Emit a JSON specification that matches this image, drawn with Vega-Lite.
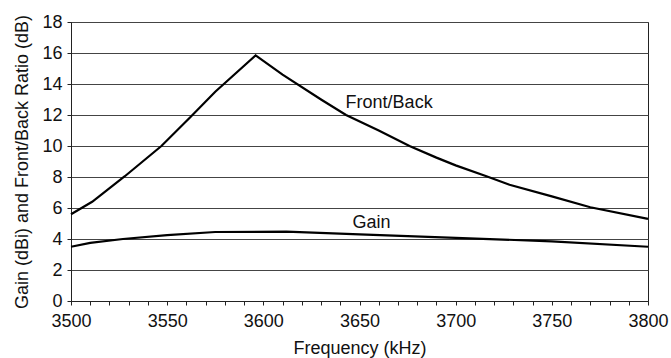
{
  "$schema": "https://vega.github.io/schema/vega-lite/v6.json",
  "width": 577,
  "height": 279,
  "autosize": {"type": "none"},
  "padding": {"left": 71, "top": 22, "right": 23, "bottom": 57},
  "background": "white",
  "config": {
    "font": "Liberation Sans",
    "view": {"stroke": "#222", "strokeWidth": 1},
    "axis": {
      "labelFont": "Liberation Sans",
      "titleFont": "Liberation Sans",
      "labelFontSize": 18,
      "titleFontSize": 18,
      "titleFontWeight": "normal",
      "labelColor": "#111",
      "titleColor": "#111",
      "domainColor": "#222",
      "tickColor": "#222",
      "gridColor": "#444",
      "gridOpacity": 1,
      "tickSize": 4
    }
  },
  "datasets": {
    "curves": [
      {"freq": 3500, "value": 5.6, "series": "Front/Back"},
      {"freq": 3511, "value": 6.4, "series": "Front/Back"},
      {"freq": 3528, "value": 8.05, "series": "Front/Back"},
      {"freq": 3547, "value": 10.0, "series": "Front/Back"},
      {"freq": 3562, "value": 11.85, "series": "Front/Back"},
      {"freq": 3575, "value": 13.5, "series": "Front/Back"},
      {"freq": 3596, "value": 15.85, "series": "Front/Back"},
      {"freq": 3610, "value": 14.6, "series": "Front/Back"},
      {"freq": 3630, "value": 13.0, "series": "Front/Back"},
      {"freq": 3643, "value": 12.0, "series": "Front/Back"},
      {"freq": 3660, "value": 11.0, "series": "Front/Back"},
      {"freq": 3676, "value": 10.0, "series": "Front/Back"},
      {"freq": 3690, "value": 9.25, "series": "Front/Back"},
      {"freq": 3700, "value": 8.75, "series": "Front/Back"},
      {"freq": 3716, "value": 8.05, "series": "Front/Back"},
      {"freq": 3728, "value": 7.5, "series": "Front/Back"},
      {"freq": 3750, "value": 6.75, "series": "Front/Back"},
      {"freq": 3770, "value": 6.05, "series": "Front/Back"},
      {"freq": 3800, "value": 5.3, "series": "Front/Back"},
      {"freq": 3500, "value": 3.5, "series": "Gain"},
      {"freq": 3510, "value": 3.75, "series": "Gain"},
      {"freq": 3527, "value": 4.0, "series": "Gain"},
      {"freq": 3550, "value": 4.25, "series": "Gain"},
      {"freq": 3575, "value": 4.45, "series": "Gain"},
      {"freq": 3612, "value": 4.47, "series": "Gain"},
      {"freq": 3650, "value": 4.3, "series": "Gain"},
      {"freq": 3700, "value": 4.07, "series": "Gain"},
      {"freq": 3750, "value": 3.85, "series": "Gain"},
      {"freq": 3800, "value": 3.5, "series": "Gain"}
    ],
    "labels": [
      {"freq": 3665.4, "value": 12.77, "text": "Front/Back"},
      {"freq": 3656.3, "value": 5.03, "text": "Gain"}
    ]
  },
  "encoding": {
    "x": {
      "field": "freq",
      "type": "quantitative",
      "title": "Frequency (kHz)",
      "scale": {"domain": [3500, 3800], "nice": false, "zero": false},
      "axis": {
        "grid": false,
        "values": [3500,3510,3520,3530,3540,3550,3560,3570,3580,3590,3600,3610,3620,3630,3640,3650,3660,3670,3680,3690,3700,3710,3720,3730,3740,3750,3760,3770,3780,3790,3800],
        "labelExpr": "datum.value % 50 == 0 ? datum.value : ''",
        "labelFlush": false,
        "labelOverlap": false,
        "labelPadding": 7,
        "titlePadding": 9
      }
    },
    "y": {
      "field": "value",
      "type": "quantitative",
      "title": "Gain (dBi) and Front/Back Ratio (dB)",
      "scale": {"domain": [0, 18], "nice": false},
      "axis": {
        "values": [0,2,4,6,8,10,12,14,16,18],
        "grid": true,
        "labelPadding": 5,
        "titlePadding": 10
      }
    }
  },
  "layer": [
    {
      "data": {"name": "curves"},
      "mark": {"type": "line", "color": "black", "strokeWidth": 2.2, "strokeJoin": "miter"},
      "encoding": {
        "detail": {"field": "series"}
      }
    },
    {
      "data": {"name": "labels"},
      "mark": {"type": "text", "font": "Liberation Sans", "fontSize": 18, "color": "#111", "baseline": "middle", "align": "center"},
      "encoding": {
        "text": {"field": "text"}
      }
    }
  ]
}
